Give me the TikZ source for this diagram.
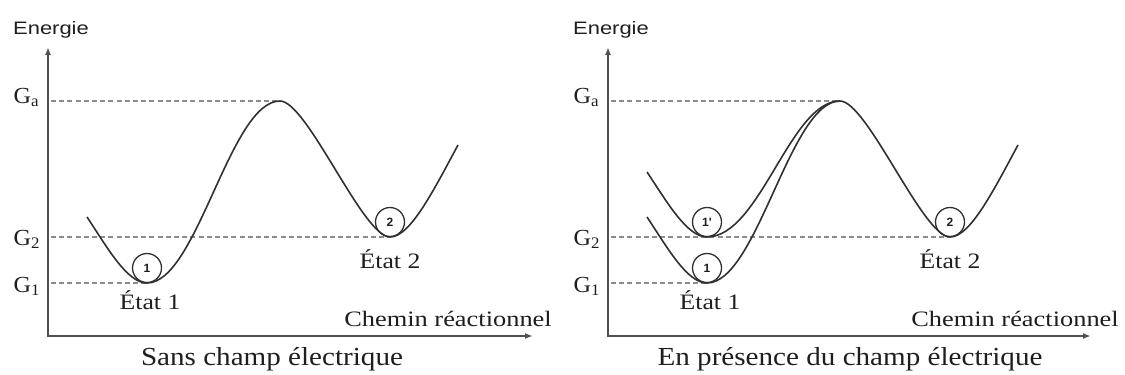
\documentclass[tikz,border=0pt]{standalone}
\usepackage{fontspec}
\setmainfont{Liberation Serif}
\newfontfamily\axisfont{Liberation Sans}
\usetikzlibrary{arrows.meta}
\definecolor{axisgray}{HTML}{505050}
\definecolor{curvegray}{HTML}{303030}
\definecolor{dashgray}{HTML}{8C8C8C}
\definecolor{txt}{HTML}{1E1E1E}
\newcommand{\hs}[2]{\scalebox{#1}[1]{#2}}
\begin{document}
\begin{tikzpicture}[x=0.5pt,y=-0.5pt,
  axisline/.style={draw=axisgray,line width=1pt,{Latex[length=4pt,width=3pt]}-{Latex[length=4pt,width=3pt]}},
  curve/.style={draw=curvegray,line width=0.8pt},
  level/.style={draw=dashgray,line width=0.65pt,dash pattern=on 2.5pt off 1.6pt},
  ball/.style={circle,draw=curvegray,line width=0.65pt,minimum size=14.5pt,inner sep=0pt,text=txt,
    font=\axisfont\bfseries\fontsize{6}{7}\selectfont},
  glabel/.style={anchor=base east,text=txt,inner sep=0pt,font=\fontsize{11.5}{12}\selectfont},
  state/.style={anchor=base,text=txt,inner sep=0pt,font=\fontsize{11}{12}\selectfont},
  axislabel/.style={anchor=base,text=txt,inner sep=0pt,font=\axisfont\fontsize{9}{10}\selectfont},
  pathlabel/.style={anchor=base,text=txt,inner sep=0pt,font=\fontsize{11}{12}\selectfont},
  title/.style={anchor=base,text=txt,inner sep=0pt,font=\fontsize{13}{14}\selectfont}
]
\useasboundingbox (0,0) rectangle (1125,375);

% ---------- Left panel ----------
\begin{scope}[name prefix=L-]
  \coordinate (O) at (48,336);
  \coordinate (Ytop) at (48,47);
  \coordinate (Xend) at (533,336);
  \coordinate (start) at (87,217);
  \coordinate (min1) at (147,283);
  \coordinate (peak) at (280,101);
  \coordinate (min2) at (390,237);
  \coordinate (end) at (458,145);
  \coordinate (axG) at (51,0);

  \draw[level] (peak -| axG) -- (peak);
  \draw[level] (min2 -| axG) -- (min2);
  \draw[level] (min1 -| axG) -- (min1);

  \draw[axisline] (Ytop) -- (O) -- (Xend);

  \draw[curve] (start) .. controls (107,247) and (127,283) .. (min1)
     .. controls (197,283) and (230,101) .. (peak)
     .. controls (307,101) and (363,237) .. (min2)
     .. controls (410,237) and (433,191.5) .. (end);

  \node[ball] (b1) at (147,268) {1};
  \node[ball] (b2) at (390,222) {2};

  \node[axislabel] (energie) at (51,34) {\hs{1.22}{Energie}};
  \node[glabel] (ga) at (40,103) {\hs{1.05}{G\textsubscript{a}}};
  \node[glabel] (g2) at (41,245) {\hs{1.05}{G\textsubscript{2}}};
  \node[glabel] (g1) at (41,292) {\hs{1.05}{G\textsubscript{1}}};

  \node[state] (e1) at (150,309) {\hs{1.17}{État 1}};
  \node[state] (e2) at (390,268) {\hs{1.17}{État 2}};
  \node[pathlabel] (chemin) at (448,326) {\hs{1.2}{Chemin réactionnel}};
  \node[title] (titre) at (272,365) {\hs{1.12}{Sans champ électrique}};
\end{scope}

% ---------- Right panel ----------
\begin{scope}[xshift=280pt,name prefix=R-]
  \coordinate (O) at (48,336);
  \coordinate (Ytop) at (48,47);
  \coordinate (Xend) at (531,336);
  \coordinate (start) at (87,217);
  \coordinate (startp) at (87,172);
  \coordinate (min1) at (147,283);
  \coordinate (min1p) at (147,237);
  \coordinate (peak) at (280,101);
  \coordinate (min2) at (390,237);
  \coordinate (end) at (458,145);
  \coordinate (axG) at (51,0);

  \draw[level] (peak -| axG) -- (peak);
  \draw[level] (min2 -| axG) -- (min2);
  \draw[level] (min1 -| axG) -- (min1);

  \draw[axisline] (Ytop) -- (O) -- (Xend);

  \draw[curve] (start) .. controls (107,247) and (127,283) .. (min1)
     .. controls (197,283) and (230,101) .. (peak)
     .. controls (307,101) and (363,237) .. (min2)
     .. controls (410,237) and (433,191.5) .. (end);
  \draw[curve] (startp) .. controls (107,202) and (127,237) .. (min1p)
     .. controls (200,237) and (230,101) .. (peak);

  \node[ball] (b1p) at (147,222) {1'};
  \node[ball] (b1) at (147,268) {1};
  \node[ball] (b2) at (390,222) {2};

  \node[axislabel] (energie) at (51,34) {\hs{1.22}{Energie}};
  \node[glabel] (ga) at (40,103) {\hs{1.05}{G\textsubscript{a}}};
  \node[glabel] (g2) at (41,245) {\hs{1.05}{G\textsubscript{2}}};
  \node[glabel] (g1) at (41,292) {\hs{1.05}{G\textsubscript{1}}};

  \node[state] (e1) at (150,309) {\hs{1.17}{État 1}};
  \node[state] (e2) at (390,268) {\hs{1.17}{État 2}};
  \node[pathlabel] (chemin) at (455,326) {\hs{1.2}{Chemin réactionnel}};
  \node[title] (titre) at (290,365) {\hs{1.12}{En présence du champ électrique}};
\end{scope}
\end{tikzpicture}
\end{document}
